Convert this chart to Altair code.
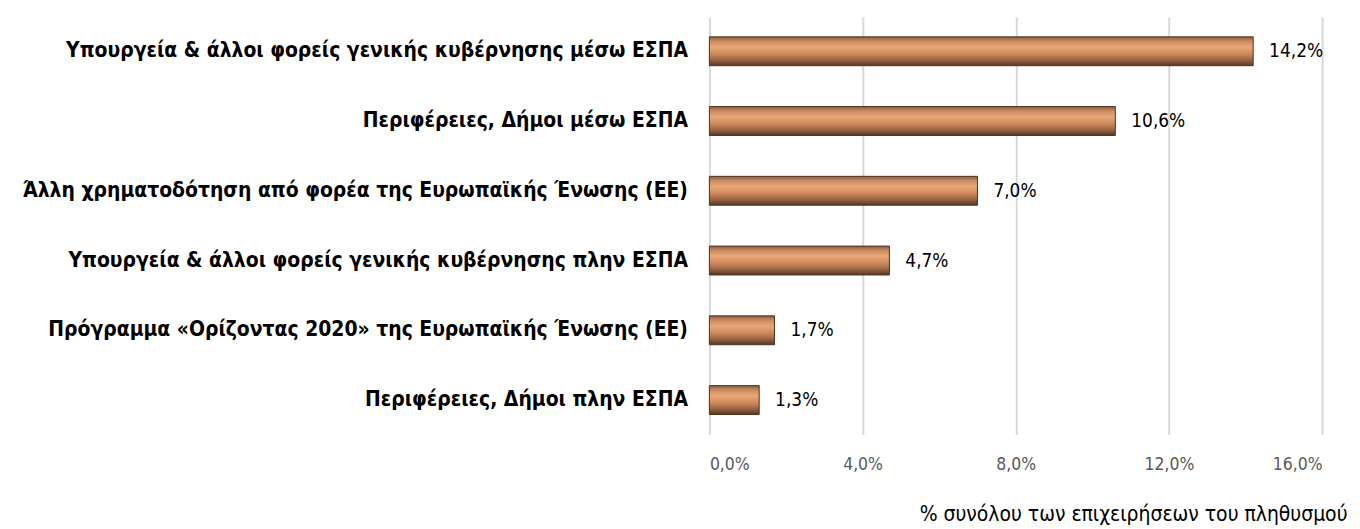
import altair as alt
import pandas as pd

categories = [
    "Υπουργεία & άλλοι φορείς γενικής κυβέρνησης μέσω ΕΣΠΑ",
    "Περιφέρειες, Δήμοι μέσω ΕΣΠΑ",
    "Άλλη χρηματοδότηση από φορέα της Ευρωπαϊκής Ένωσης (ΕΕ)",
    "Υπουργεία & άλλοι φορείς γενικής κυβέρνησης πλην ΕΣΠΑ",
    "Πρόγραμμα «Ορίζοντας 2020» της Ευρωπαϊκής Ένωσης (ΕΕ)",
    "Περιφέρειες, Δήμοι πλην ΕΣΠΑ",
]
values = [0.142, 0.106, 0.070, 0.047, 0.017, 0.013]
tick_values = [0.0, 0.04, 0.08, 0.12, 0.16]
axis_title = "% συνόλου των επιχειρήσεων του πληθυσμού"

df = pd.DataFrame({"cat": categories, "val": values})

FONT = "DejaVu Sans Condensed, DejaVu Sans"

gradient = alt.Gradient(
    gradient="linear",
    stops=[
        alt.GradientStop(color="#8e5e40", offset=0.0),
        alt.GradientStop(color="#c98a60", offset=0.15),
        alt.GradientStop(color="#eaa878", offset=0.35),
        alt.GradientStop(color="#cd885a", offset=0.6),
        alt.GradientStop(color="#9a6444", offset=0.8),
        alt.GradientStop(color="#553724", offset=1.0),
    ],
    x1=0, x2=0, y1=0, y2=1,
)

y = alt.Y(
    "cat:N", sort=categories, title=None,
    scale=alt.Scale(paddingInner=0.586, paddingOuter=0.285),
    axis=alt.Axis(labelFont=FONT, labelFontSize=21, labelFontWeight="bold",
                  labelColor="#000000", labelPadding=22, ticks=False,
                  domain=False, labelLimit=800),
)
x = alt.X(
    "val:Q", title=axis_title,
    scale=alt.Scale(domain=[0, 0.16], nice=False),
    axis=alt.Axis(values=tick_values, labelExpr="replace(format(datum.value, '.1%'), '.', ',')",
                  labelFont=FONT, labelFontSize=17.5, labelColor="#595959", labelPadding=21,
                  ticks=False, domain=False, grid=True, gridColor="#d9d9d9", gridWidth=2,
                  titleFont=FONT, titleFontSize=21, titleFontWeight="normal", titleColor="#000000",
                  titleAnchor="end", titleAlign="right", titleX=640, titleY=86,
                  titleBaseline="alphabetic"),
)

bars = alt.Chart(df).mark_bar(fill=gradient, stroke="#4e3322", strokeWidth=1).encode(x=x, y=y)

text = alt.Chart(df).transform_calculate(
    lbl="replace(format(datum.val, '.1%'), '.', ',')"
).mark_text(align="left", dx=16, font=FONT, fontSize=19, color="#000000").encode(
    x="val:Q", y=alt.Y("cat:N", sort=categories), text="lbl:N"
)

chart = (bars + text).properties(
    width=615, height=419,
    autosize=alt.AutoSizeParams(type="none"),
    padding={"left": 704, "top": 8, "right": 30, "bottom": 92},
).configure_view(stroke=None)

chart.save("out.html", embed_options={"renderer": "svg", "actions": False})
